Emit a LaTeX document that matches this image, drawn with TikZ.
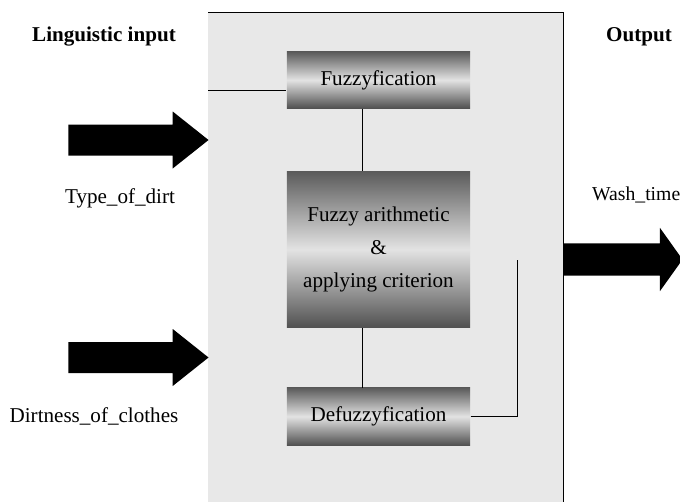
\documentclass[tikz,border=0pt]{standalone}
\usepackage{fontspec}
\setmainfont{Liberation Serif}
\usetikzlibrary{shapes.arrows}

\tikzset{
stage/.style={top color=black!64,bottom color=black!68,middle color=black!11,
  minimum width=4.575cm,align=center,inner sep=0pt},
bigarrow/.style={single arrow,fill=black,inner xsep=0pt,inner ysep=0.375cm,anchor=tail,
  single arrow head extend=0.325cm,single arrow tip angle=77,minimum height=3.5cm},
iotext/.style={anchor=base}}

\begin{document}
\begin{tikzpicture}
  [x=0.025cm,y=-0.025cm,line width=0.7pt,
   every node/.style={font=\fontsize{15}{23.5}\selectfont}]
  \useasboundingbox (0,0) rectangle (680,502);
  \fill[black!9] (208,12) rectangle (563,502);
  \draw (208,12) -- (563,12) -- (563,502);
  \node[stage,minimum height=1.4cm] (fuzz) at (378.5,80) {Fuzzyfication};
  \node[stage,minimum height=3.875cm] (arith) at (378.5,249.5)
       {Fuzzy arithmetic\\\&\\applying criterion};
  \node[stage,minimum height=1.425cm] (defuzz) at (378.5,416.5) {Defuzzyfication};
  \coordinate (inL) at (208,90);
  \coordinate (outT) at (517,260);
  \draw (inL) -- (inL -| fuzz.west);
  \draw ([xshift=-0.41cm]fuzz.south) -- ([xshift=-0.41cm]arith.north);
  \draw ([xshift=-0.41cm]arith.south) -- ([xshift=-0.41cm]defuzz.north);
  \draw (defuzz.east) -| (outT);
  \node[bigarrow] (dirt) at (68,140) {};
  \node[bigarrow] (dirtness) at (68,357.5) {};
  \node[bigarrow,inner ysep=0.39cm,single arrow head extend=0.39cm,
        single arrow tip angle=109,minimum height=2.975cm] (wash) at (563,259.5) {};
  \node[iotext] (ling) at (104,41) {\textbf{Linguistic input}};
  \node[iotext] (outlbl) at (639,41) {\textbf{Output}};
  \node[iotext] (dirtlbl) at (120,203) {Type\_of\_dirt};
  \node[iotext] (dirtnesslbl) at (94,422) {Dirtness\_of\_clothes};
  \node[iotext,anchor=base west,font=\fontsize{14}{17}\selectfont] (washlbl) at (587,200)
       {Wash\_time};
\end{tikzpicture}
\end{document}
